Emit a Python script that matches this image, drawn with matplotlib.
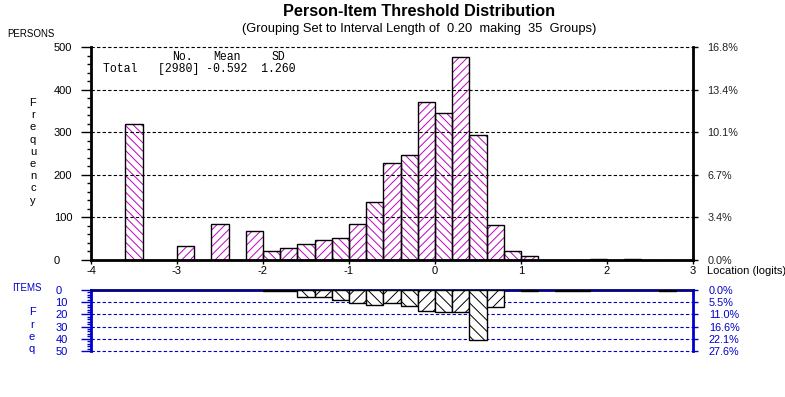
import matplotlib.pyplot as plt
from matplotlib.ticker import MultipleLocator

W, H = 785, 397

# persons: left edge of each 0.2-logit group and its count
person_left = [-3.6, -3.0, -2.6, -2.2, -2.0, -1.8, -1.6, -1.4, -1.2, -1.0, -0.8,
               -0.6, -0.4, -0.2, 0.0, 0.2, 0.4, 0.6, 0.8, 1.0, 1.8, 2.2]
person_freq = [320, 32, 84, 67, 21, 27, 37, 46, 51, 84, 135,
               228, 247, 371, 346, 477, 294, 82, 22, 9, 2, 2]
person_total = 2980

# items (thresholds)
item_left = [-2.0, -1.8, -1.6, -1.4, -1.2, -1.0, -0.8, -0.6, -0.4, -0.2,
             0.0, 0.2, 0.4, 0.6, 1.0, 1.4, 1.6, 2.6]
item_freq = [1, 1, 6, 6, 8, 11, 12, 11, 13, 17, 18, 18, 41, 14, 1, 1, 1, 1]
item_total = 181

bin_width = 0.2
x_min, x_max = -4, 3

plt.rcParams['font.family'] = ['Liberation Sans', 'DejaVu Sans']
plt.rcParams['axes.unicode_minus'] = False
plt.rcParams['hatch.linewidth'] = 0.7

MAGENTA = '#c000c0'
BLUE = '#0000cc'
NAVY = '#000080'


def px(x, y):
    return x / W, 1 - y / H


def hatch_for(left, dense):
    k = round((left - x_min) / bin_width)
    return ('\\' if k % 2 == 0 else '/') * dense


fig = plt.figure(figsize=(W / 100, H / 100), dpi=100)

# ---------- persons panel ----------
ax1 = fig.add_axes([91 / W, 1 - 260 / H, 602 / W, 213 / H])
for left, f in zip(person_left, person_freq):
    ax1.bar(left, f, width=bin_width, align='edge', color='white',
            edgecolor=MAGENTA, hatch=hatch_for(left, 4), linewidth=0, zorder=2)
    ax1.bar(left, f, width=bin_width, align='edge', fill=False,
            edgecolor='black', linewidth=1.0, zorder=3)
ax1.set_xlim(x_min, x_max)
ax1.set_ylim(0, 500)
ax1.yaxis.set_major_locator(MultipleLocator(100))
ax1.yaxis.set_minor_locator(MultipleLocator(20))
ax1.xaxis.set_major_locator(MultipleLocator(1))
ax1.grid(axis='y', which='major', color='black', linestyle=(0, (3, 2)),
         linewidth=0.8, zorder=4)
ax1.set_axisbelow(False)
for gl in ax1.get_ygridlines():
    gl.set_clip_on(False)
ax1.spines['top'].set_visible(False)
for s in ('left', 'right', 'bottom'):
    ax1.spines[s].set_linewidth(2)
ax1.tick_params(axis='y', which='major', length=7, width=1, pad=19.8,
                labelsize=8)
ax1.tick_params(axis='y', which='minor', length=3.2, width=1)
ax1.tick_params(axis='x', length=3, width=1, pad=1.5, labelsize=8)
for lab in ax1.get_yticklabels():
    lab.set_horizontalalignment('left')

ax1r = ax1.twinx()
ax1r.set_ylim(0, 500)
ax1r.yaxis.set_major_locator(MultipleLocator(100))
ax1r.set_yticklabels([f'{v / person_total * 100:.1f}%' for v in ax1r.get_yticks()])
ax1r.tick_params(axis='y', length=3.5, width=1, pad=7, labelsize=7.8,
                 labelcolor='#222222')
for s in ax1r.spines.values():
    s.set_visible(False)

# ---------- items panel ----------
ax2 = fig.add_axes([91 / W, 1 - 351 / H, 602 / W, 61 / H])
for left, f in zip(item_left, item_freq):
    ax2.bar(left, f, width=bin_width, align='edge', color='white',
            edgecolor='black', hatch=hatch_for(left, 3), linewidth=1.0, zorder=3)
ax2.set_xlim(x_min, x_max)
ax2.set_ylim(50, 0)
ax2.yaxis.set_major_locator(MultipleLocator(10))
ax2.yaxis.set_minor_locator(MultipleLocator(2))
ax2.grid(axis='y', which='major', color=BLUE, linestyle=(0, (3, 2)),
         linewidth=0.8, zorder=1)
for gl in ax2.get_ygridlines():
    gl.set_clip_on(False)
ax2.spines['bottom'].set_visible(False)
ax2.spines['top'].set_color(NAVY)
ax2.spines['top'].set_linewidth(2)
for s in ('left', 'right'):
    ax2.spines[s].set_color(BLUE)
    ax2.spines[s].set_linewidth(2)
ax2.set_xticks([])
ax2.tick_params(axis='y', which='major', length=7, width=1, color=BLUE,
                labelcolor=BLUE, pad=18.7, labelsize=8)
ax2.tick_params(axis='y', which='minor', length=3, width=1, color=BLUE)
for lab in ax2.get_yticklabels():
    lab.set_horizontalalignment('left')

ax2r = ax2.twinx()
ax2r.set_ylim(50, 0)
ax2r.yaxis.set_major_locator(MultipleLocator(10))
ax2r.set_yticklabels([f'{v / item_total * 100:.1f}%' for v in ax2r.get_yticks()])
ax2r.tick_params(axis='y', length=3.5, width=1, color=BLUE, labelcolor=BLUE,
                 pad=8, labelsize=7.8)
for s in ax2r.spines.values():
    s.set_visible(False)

# ---------- texts ----------
fig.text(*px(419, 12), 'Person-Item Threshold Distribution', ha='center',
         va='center', fontsize=11.7, fontweight='bold')
fig.text(*px(419, 29), '(Grouping Set to Interval Length of  0.20  making  35  Groups)',
         ha='center', va='center', fontsize=9.3)
fig.text(*px(7, 34), 'PERSONS', ha='left', va='center', fontsize=7)
fig.text(*px(707, 271), 'Location (logits)', ha='left', va='center', fontsize=8)

for i, ch in enumerate('Frequency'):
    fig.text(*px(33, 103 + 12.2 * i), ch, ha='center', va='center', fontsize=8)

fig.text(*px(12, 288), 'ITEMS', ha='left', va='center', fontsize=7, color=BLUE)
for i, ch in enumerate('Freq'):
    fig.text(*px(32, 312 + 12.5 * i), ch, ha='center', va='center', fontsize=8,
             color=BLUE)

mono = dict(family='Liberation Mono', fontsize=8.3, va='center', ha='left')
fig.text(*px(172, 57), 'No.', **mono)
fig.text(*px(213, 57), 'Mean', **mono)
fig.text(*px(272, 57), 'SD', **mono)
fig.text(*px(103, 69), 'Total   [2980] -0.592  1.260', **mono)

fig.savefig('out.png', dpi=100)
